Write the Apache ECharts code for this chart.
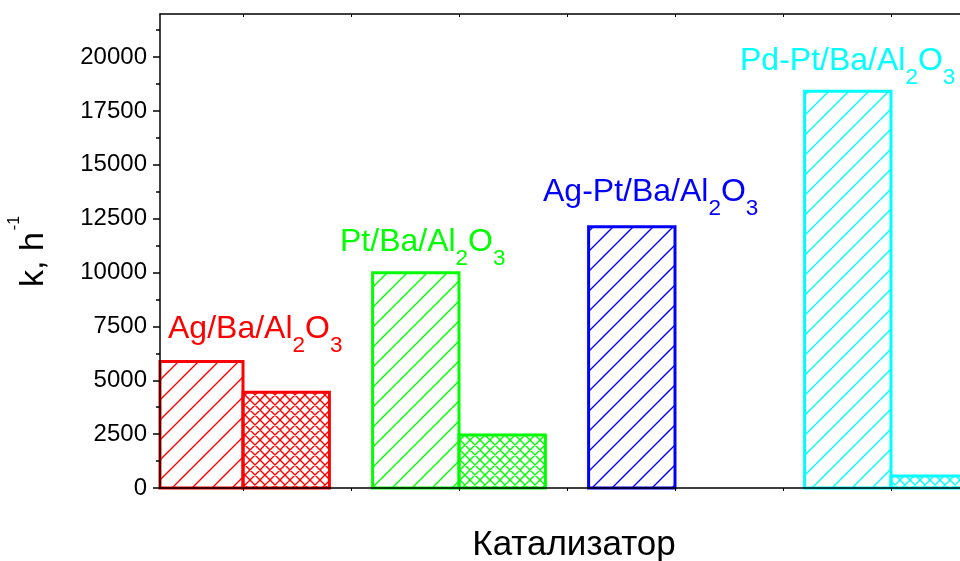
<!DOCTYPE html>
<html>
<head>
<meta charset="utf-8">
<script src="https://cdn.jsdelivr.net/npm/echarts@6/dist/echarts.min.js"></script>
<style>
  html, body { margin: 0; padding: 0; background: #fff; }
  #chart { width: 960px; height: 561px; }
</style>
</head>
<body>
<div id="chart"></div>
<script>
// Catalysts (digits in a formula are drawn as subscripts)
const catalysts = ['Ag/Ba/Al2O3', 'Pt/Ba/Al2O3', 'Ag-Pt/Ba/Al2O3', 'Pd-Pt/Ba/Al2O3'];
// Rate constant k, h^-1: first (hatched) and second (cross-hatched) bar of each catalyst
const kFirst = [5870, 9990, 12130, 18420];
const kSecond = [4440, 2460, null, 560];
// Axis ticks
const yTicks = [0, 2500, 5000, 7500, 10000, 12500, 15000, 17500, 20000];
const yMinorTicks = [1250, 3750, 6250, 8750, 11250, 13750, 16250, 18750, 21250];
const xTicks = [1, 2, 3, 4, 5, 6, 7];

// ---- styling / layout ----
const colors = ['#ff0000', '#00ff00', '#0000ff', '#00ffff'];
const FONT = '"Liberation Sans", Arial, sans-serif';
const BAR_W = 0.8;              // bar width in x-axis units
const groupX = i => 1 + 2 * i;  // x position shared by the two bars of a catalyst
const labelAnchors = [[168, 340], [340, 253], [543, 203], [740, 72]];

const measureCtx = document.createElement('canvas').getContext('2d');
function textWidth(t, size) {
  measureCtx.font = size + 'px ' + FONT;
  return measureCtx.measureText(t).width;
}

// Hatch fills: '/' lines, or a '/' + '\' cross hatch at half spacing
function makePattern(color, cross) {
  const s = 20;
  const c = document.createElement('canvas');
  c.width = c.height = s;
  const g = c.getContext('2d');
  g.strokeStyle = color;
  g.lineWidth = 1.4;
  const step = cross ? s / 2 : s;
  g.beginPath();
  for (let k = -s; k <= 2 * s; k += step) {
    g.moveTo(k - s - 2, s + 2);
    g.lineTo(k + 2, -2);
  }
  if (cross) {
    for (let k = -s; k <= s; k += step) {
      g.moveTo(k - 2, -2);
      g.lineTo(k + s + 2, s + 2);
    }
  }
  g.stroke();
  return { image: c, repeat: 'repeat' };
}
const hatchFills = colors.map(c => makePattern(c, false));
const crossFills = colors.map(c => makePattern(c, true));

function barRenderer(side, fills) {
  return function (params, api) {
    const i = api.value(0);
    const v = api.value(1);
    const x0 = side < 0 ? groupX(i) - BAR_W : groupX(i);
    const x1 = x0 + BAR_W;
    const p0 = api.coord([x0, v]);
    const p1 = api.coord([x1, 0]);
    const cs = params.coordSys;
    const shape = echarts.graphic.clipRectByRect(
      { x: p0[0], y: p0[1], width: p1[0] - p0[0], height: p1[1] - p0[1] },
      { x: cs.x, y: cs.y, width: cs.width, height: cs.height }
    );
    if (!shape) return;
    return {
      type: 'rect',
      shape: shape,
      style: { fill: fills[i], stroke: colors[i], lineWidth: 3 }
    };
  };
}

// Formula text with subscripted digits, placed by its baseline
function formulaText(name, color, x, baseline, size, subSize, subDrop) {
  const parts = name.split(/(\d+)/).filter(p => p.length);
  const children = [];
  let cx = 0;
  parts.forEach(p => {
    const sub = /^\d+$/.test(p);
    const fs = sub ? subSize : size;
    const base = sub ? subDrop : 0;
    children.push({
      type: 'text', x: cx, y: base - 0.3465 * fs,
      style: { text: p, fill: color, font: fs + 'px ' + FONT, verticalAlign: 'middle', align: 'left' }
    });
    cx += textWidth(p, fs);
  });
  return { type: 'group', x: x, y: baseline, children: children };
}

const graphics = catalysts.map((name, i) =>
  formulaText(name, colors[i], labelAnchors[i][0], labelAnchors[i][1], 32, 22.5, 13.5));

// y-axis title "k, h^-1", reading bottom to top
const yTitleMain = 'k, h';
const yTitleSup = '-1';
graphics.push({
  type: 'group', x: 45, y: 287, rotation: Math.PI / 2,
  children: [
    { type: 'text', x: 0, y: -0.3465 * 34,
      style: { text: yTitleMain, fill: '#000', font: '34px ' + FONT, verticalAlign: 'middle', align: 'left' } },
    { type: 'text', x: textWidth(yTitleMain, 34) + 2, y: -25 - 0.3465 * 16,
      style: { text: yTitleSup, fill: '#000', font: '16px ' + FONT, verticalAlign: 'middle', align: 'left' } }
  ]
});
// x-axis title
graphics.push({
  type: 'text', x: 574, y: 557 - 0.3465 * 35,
  style: { text: 'Катализатор', fill: '#000', font: '35px ' + FONT, verticalAlign: 'middle', align: 'center' }
});

const axisLineStyle = { color: '#000', width: 1.5 };
const xAxisBase = {
  type: 'value', min: 0.2315, max: 8, z: 5,
  axisLine: { show: true, onZero: false, lineStyle: axisLineStyle },
  axisTick: { show: true, customValues: xTicks, length: 3, lineStyle: { color: '#000', width: 1 } },
  axisLabel: { show: false },
  splitLine: { show: false }
};

const chart = echarts.init(document.getElementById('chart'), null, { renderer: 'canvas' });
chart.setOption({
  animation: false,
  backgroundColor: '#fff',
  grid: { left: 160, top: 14, bottom: 73, right: -39, containLabel: false, outerBoundsMode: 'none' },
  xAxis: [
    Object.assign({}, xAxisBase, { position: 'bottom' }),
    Object.assign({}, xAxisBase, { position: 'top', axisTick: Object.assign({}, xAxisBase.axisTick, { inside: true }) })
  ],
  yAxis: [
    {
      type: 'value', position: 'left', min: 0, max: 22000, interval: 2500, z: 5,
      axisLine: { show: true, onZero: false, lineStyle: axisLineStyle },
      axisTick: { show: true, customValues: yTicks, length: 7, lineStyle: { color: '#000', width: 1.5 } },
      axisLabel: {
        show: true, customValues: yTicks, margin: 13, color: '#000', fontSize: 24, fontFamily: FONT,
        formatter: v => String(v)
      },
      splitLine: { show: false }
    },
    {
      type: 'value', position: 'left', min: 0, max: 22000, z: 5,
      axisLine: { show: false },
      axisTick: { show: true, customValues: yMinorTicks, length: 4, lineStyle: { color: '#000', width: 1.5 } },
      axisLabel: { show: false },
      splitLine: { show: false }
    }
  ],
  series: [
    {
      type: 'custom', name: 'first', z: 2, silent: true,
      xAxisIndex: 0, yAxisIndex: 0,
      data: kFirst.map((v, i) => [i, v]),
      renderItem: barRenderer(-1, hatchFills)
    },
    {
      type: 'custom', name: 'second', z: 2, silent: true,
      xAxisIndex: 0, yAxisIndex: 0,
      data: kSecond.map((v, i) => [i, v]).filter(d => d[1] != null),
      renderItem: barRenderer(1, crossFills)
    }
  ],
  graphic: { elements: graphics }
});
</script>
</body>
</html>
